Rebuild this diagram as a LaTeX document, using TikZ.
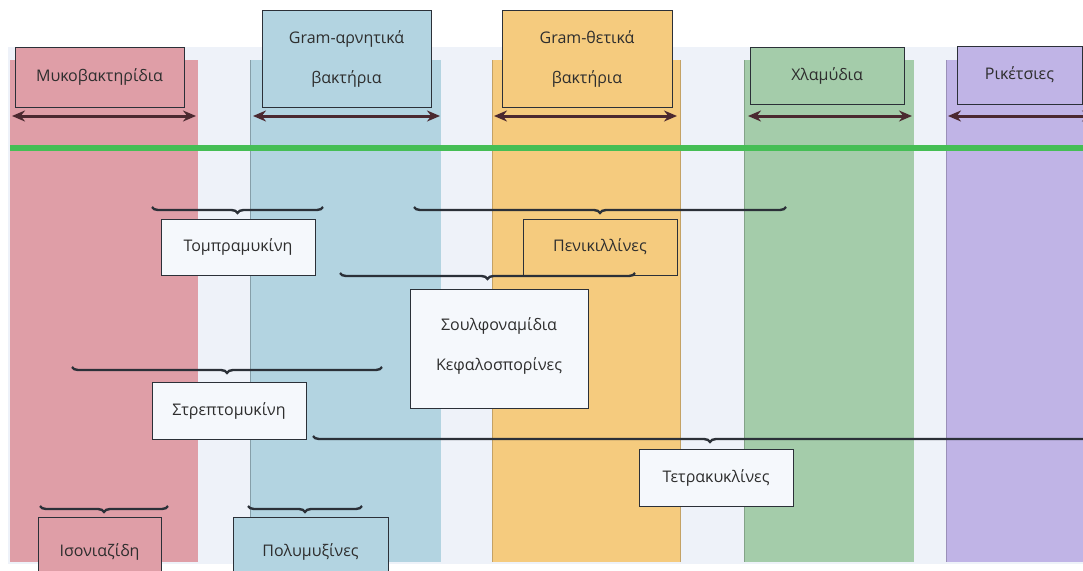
\documentclass[tikz,border=0pt]{standalone}
\usepackage{fontspec}
\setmainfont{Open Sans}
\usetikzlibrary{decorations.pathreplacing,arrows.meta}
\definecolor{panel}{HTML}{EEF2F9}
\definecolor{colred}{HTML}{DF9EA7}
\definecolor{colblue}{HTML}{B3D4E1}
\definecolor{colorange}{HTML}{F5CB7E}
\definecolor{colgreen}{HTML}{A4CCAA}
\definecolor{colpurple}{HTML}{C0B4E6}
\definecolor{gline}{HTML}{45BE55}
\definecolor{labelfill}{HTML}{F5F8FC}
\definecolor{darkline}{HTML}{2B3038}
\definecolor{txt}{HTML}{2E2E2E}
\begin{document}
\begin{tikzpicture}[x=1pt,y=-1pt,
  hbox/.style={draw=darkline, line width=1pt, inner sep=0pt, align=center,
    text=txt, font=\fontsize{16}{40}\selectfont},
  lbox/.style={hbox, fill=labelfill},
  darrow/.style={draw=darkline!85!red, line width=3pt, {Stealth[length=13pt,width=11pt]}-{Stealth[length=13pt,width=11pt]}},
  brc/.style={draw=darkline, line width=2.4pt, decorate,
    decoration={brace, amplitude=6pt, mirror}}]
\useasboundingbox (0,0) rectangle (1083,570);
\clip (0,0) rectangle (1083,570);
% background panel
\fill[panel] (8,47) rectangle (1083,564);
% columns
\fill[colred] (10,60) rectangle (198,562);
\fill[colblue] (250,60) rectangle (441,562);
\fill[colorange] (492,60) rectangle (680,562);
\fill[colgreen] (744,60) rectangle (914,562);
\fill[colpurple] (946,60) rectangle (1083,562);
\draw[colblue!75!black, line width=0.8pt] (250,60) -- (250,562);
\draw[colorange!80!black, line width=0.8pt] (492,60) -- (492,562) (680,60) -- (680,562);
\draw[colgreen!80!black, line width=0.8pt] (744,60) -- (744,562);
\draw[colpurple!80!black, line width=0.8pt] (946,60) -- (946,562);
% green line
\draw[gline, line width=6pt] (10,148) -- (1083,148);
% header boxes
\node[hbox, fill=colred, minimum width=169pt, minimum height=60pt] (myco) at (99.5,77) {Μυκοβακτηρίδια};
\node[hbox, fill=colblue, minimum width=169pt, minimum height=97pt] (gneg) at (346.5,58.5) {Gram-αρνητικά\\βακτήρια};
\node[hbox, fill=colorange, minimum width=170pt, minimum height=97pt] (gpos) at (587,58.5) {Gram-θετικά\\βακτήρια};
\node[hbox, fill=colgreen, minimum width=154pt, minimum height=57pt] (chla) at (827,75.5) {Χλαμύδια};
\node[hbox, fill=colpurple, minimum width=125pt, minimum height=58pt] (rick) at (1019.5,75) {Ρικέτσιες};
% double arrows
\coordinate (a1l) at (12,116);  \coordinate (a1r) at (196,116);
\coordinate (a2l) at (253,116); \coordinate (a2r) at (440,116);
\coordinate (a3l) at (494,116); \coordinate (a3r) at (677,116);
\coordinate (a4l) at (748,116); \coordinate (a4r) at (912,116);
\coordinate (a5l) at (948,116); \coordinate (a5r) at (1095,116);
\draw[darrow] (a1l) -- (a1r);
\draw[darrow] (a2l) -- (a2r);
\draw[darrow] (a3l) -- (a3r);
\draw[darrow] (a4l) -- (a4r);
\draw[darrow] (a5l) -- (a5r);
% label boxes
\node[lbox, minimum width=154pt, minimum height=56pt] (tobra) at (238,247) {Τομπραμυκίνη};
\node[hbox, fill=colorange, minimum width=154pt, minimum height=56pt] (penic) at (600,247) {Πενικιλλίνες};
\node[lbox, minimum width=178pt, minimum height=119pt] (sulfo) at (499,348.5) {Σουλφοναμίδια\\Κεφαλοσπορίνες\\[-31pt]\mbox{}};
\node[lbox, minimum width=154pt, minimum height=57pt] (strep) at (229,410.5) {Στρεπτομυκίνη};
\node[lbox, minimum width=154pt, minimum height=57pt] (tetra) at (716,477.5) {Τετρακυκλίνες};
\node[hbox, fill=colred, minimum width=123pt, minimum height=70pt] (iso) at (99.5,552) {Ισονιαζίδη};
\node[hbox, fill=colblue, minimum width=155pt, minimum height=70pt] (poly) at (310.5,552) {Πολυμυξίνες};
% braces
\coordinate (b1l) at (152,207); \coordinate (b1r) at (323,207);
\coordinate (b2l) at (414,207); \coordinate (b2r) at (786,207);
\coordinate (b3l) at (340,273); \coordinate (b3r) at (635,273);
\coordinate (b4l) at (72,367);  \coordinate (b4r) at (382,367);
\coordinate (b5l) at (313,436); \coordinate (b5r) at (1107,436);
\coordinate (b6l) at (40,506);  \coordinate (b6r) at (168,506);
\coordinate (b7l) at (248,506); \coordinate (b7r) at (362,506);
\draw[brc] (b1l) -- (b1r);
\draw[brc] (b2l) -- (b2r);
\draw[brc] (b3l) -- (b3r);
\draw[brc] (b4l) -- (b4r);
\draw[brc] (b5l) -- (b5r);
\draw[brc] (b6l) -- (b6r);
\draw[brc] (b7l) -- (b7r);
\end{tikzpicture}
\end{document}
